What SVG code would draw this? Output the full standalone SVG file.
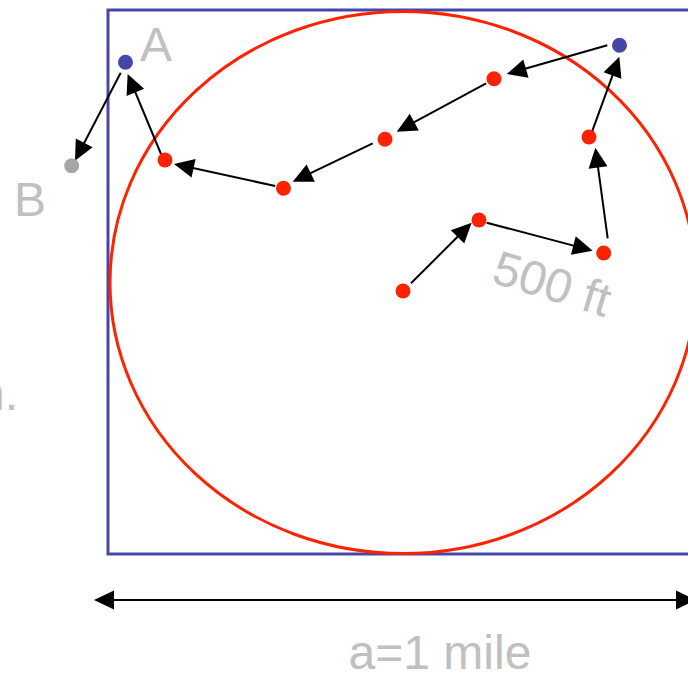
<svg xmlns="http://www.w3.org/2000/svg" width="688" height="673" viewBox="0 0 688 673">
<style>
.lbl{font-family:"Liberation Sans",Arial,sans-serif;font-size:48px;fill:#C0C0C0}
.red{fill:#FF2200}
.blue{fill:#4646AA}
.conn line{stroke:#000;stroke-width:2;marker-end:url(#ah)}
</style>
<defs>
<marker id="ah" markerUnits="userSpaceOnUse" markerWidth="20" markerHeight="19" refX="10" refY="9.5" orient="auto" overflow="visible">
<path d="M0,0 L20,9.5 L0,19 Z" fill="#000"/>
</marker>
<marker id="ahs" markerUnits="userSpaceOnUse" markerWidth="20" markerHeight="19" refX="10" refY="9.5" orient="auto-start-reverse" overflow="visible">
<path d="M0,0 L20,9.5 L0,19 Z" fill="#000"/>
</marker>
</defs>
<rect id="square" x="108" y="10" width="588" height="544" fill="none" stroke="#4646AA" stroke-width="3"/>
<ellipse id="circle" cx="403" cy="282.5" rx="293" ry="271" fill="none" stroke="#FF2200" stroke-width="3"/>
<g id="connectors" class="conn">
<line x1="411" y1="283.3" x2="464.6" y2="229.8"/>
<line x1="486.7" y1="222.7" x2="583" y2="248.1"/>
<line x1="607.7" y1="238.3" x2="596.7" y2="157.6"/>
<line x1="591.7" y1="132.7" x2="615.9" y2="66.1"/>
<line x1="607.3" y1="45.3" x2="516.3" y2="71.3"/>
<line x1="486.1" y1="83.3" x2="405.5" y2="126.9"/>
<line x1="372.7" y1="143.3" x2="301.7" y2="177.4"/>
<line x1="275.2" y1="186" x2="183.8" y2="166.1"/>
<line x1="161" y1="154" x2="131.5" y2="83.2"/>
<line x1="120.7" y1="72.7" x2="79.6" y2="151.8"/>
<line id="dimension" x1="104" y1="600" x2="686" y2="600" style="marker-start:url(#ahs);marker-end:url(#ahs)"/>
</g>
<g id="p0"><circle class="red" cx="403" cy="291" r="7.5"/></g>
<g id="p1"><circle class="red" cx="479" cy="220" r="7.5"/></g>
<g id="p2"><circle class="red" cx="603.7" cy="253" r="7.5"/></g>
<g id="p3"><circle class="red" cx="589" cy="137" r="7.5"/></g>
<g id="p4"><circle class="blue" cx="619.5" cy="45.3" r="7.5"/></g>
<g id="p5"><circle class="red" cx="494" cy="78.7" r="7.5"/></g>
<g id="p6"><circle class="red" cx="385" cy="139.3" r="7.5"/></g>
<g id="p7"><circle class="red" cx="283.5" cy="188.3" r="7.5"/></g>
<g id="p8"><circle class="red" cx="165" cy="160" r="7.5"/></g>
<g id="nodeA"><circle class="blue" cx="125.5" cy="62.3" r="7.5"/><text class="lbl" x="140" y="61">A</text></g>
<g id="nodeB"><circle cx="71.7" cy="165.7" r="7.5" fill="#A6A6A6"/><text class="lbl" x="14" y="216">B</text></g>
<text class="lbl" x="18" y="410" text-anchor="end">n.</text>
<text class="lbl" x="490" y="282" transform="rotate(17 490 282)">500 ft</text>
<text class="lbl" x="440" y="669" text-anchor="middle">a=1 mile</text>
</svg>
